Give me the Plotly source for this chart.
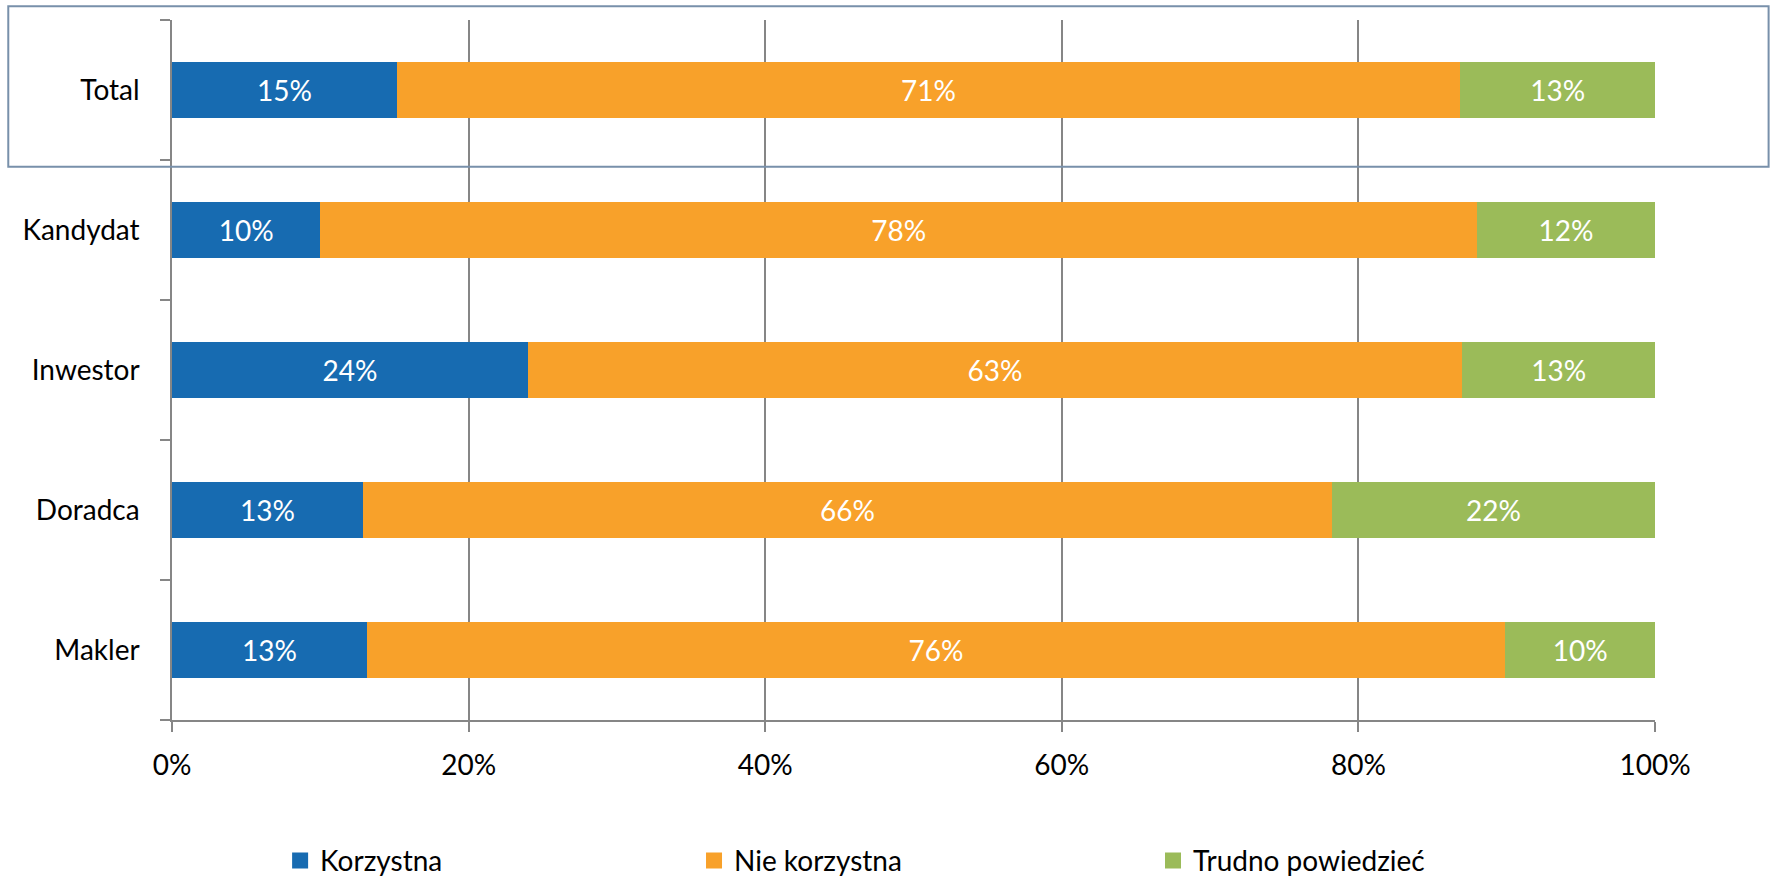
import plotly.graph_objects as go

# Survey groups, top to bottom
categories = ["Total", "Kandydat", "Inwestor", "Doradca", "Makler"]

# Answer shares (%) per group
korzystna = [15, 10, 24, 13, 13]
nie_korzystna = [71, 78, 63, 66, 76]
trudno = [13, 12, 13, 22, 10]

# Value axis ticks
x_tickvals = [0, 20, 40, 60, 80, 100]
x_ticktext = ["0%", "20%", "40%", "60%", "80%", "100%"]

series = [
    ("Korzystna", korzystna, "#176BB1", "legend"),
    ("Nie korzystna", nie_korzystna, "#F8A12A", "legend2"),
    ("Trudno powiedzieć", trudno, "#9BBB59", "legend3"),
]

FONT = "Lato"
FS = 28
GRID = "#868686"

fig = go.Figure()
for name, vals, color, leg in series:
    fig.add_trace(go.Bar(
        name=name,
        y=categories,
        x=vals,
        orientation="h",
        marker=dict(color=color, line=dict(width=0)),
        text=[f"{v}%" for v in vals],
        textposition="inside",
        insidetextanchor="middle",
        constraintext="none",
        textfont=dict(family=FONT, size=FS, color="white"),
        showlegend=False,
        hoverinfo="skip",
    ))
    # legend key: a larger square swatch in the series colour
    fig.add_trace(go.Scatter(
        name=name,
        x=[None],
        y=[None],
        mode="markers",
        marker=dict(symbol="square", size=17, color=color),
        legend=leg,
        showlegend=True,
        hoverinfo="skip",
    ))

legend_common = dict(
    orientation="h",
    yanchor="middle",
    y=-0.201,
    xanchor="left",
    font=dict(family=FONT, size=FS, color="black"),
    bgcolor="rgba(0,0,0,0)",
    itemwidth=30,
)

fig.update_layout(
    width=1773,
    height=879,
    margin=dict(l=172, r=118, t=20, b=159, autoexpand=False),
    paper_bgcolor="white",
    plot_bgcolor="white",
    barmode="stack",
    barnorm="percent",
    bargap=0.6,
    showlegend=True,
    font=dict(family=FONT, size=FS, color="black"),
    legend=dict(x=0.0729, **legend_common),
    legend2=dict(x=0.3520, **legend_common),
    legend3=dict(x=0.6615, **legend_common),
    xaxis=dict(
        range=[0, 100],
        tickmode="array",
        tickvals=x_tickvals,
        ticktext=x_ticktext,
        showgrid=True,
        gridcolor=GRID,
        gridwidth=1.5,
        showline=True,
        linecolor=GRID,
        linewidth=1.5,
        ticks="outside",
        ticklen=10,
        tickwidth=1.5,
        tickcolor=GRID,
        ticklabelstandoff=10,
        tickfont=dict(family=FONT, size=FS, color="black"),
        zeroline=False,
        fixedrange=True,
    ),
    yaxis=dict(
        categoryorder="array",
        categoryarray=categories[::-1],
        showline=True,
        linecolor=GRID,
        linewidth=1.5,
        ticks="outside",
        tickson="boundaries",
        ticklen=10,
        tickwidth=1.5,
        tickcolor=GRID,
        ticklabelstandoff=25,
        tickfont=dict(family=FONT, size=FS, color="black"),
        showgrid=False,
        fixedrange=True,
    ),
    shapes=[
        # highlight frame around the Total row
        dict(
            type="rect", xref="paper", yref="paper",
            x0=-0.1104, x1=1.0766, y0=0.7904, y1=1.0195,
            line=dict(color="#7890AA", width=2),
            fillcolor="rgba(0,0,0,0)",
            layer="above",
        )
    ],
)

fig.write_html("out.html")
